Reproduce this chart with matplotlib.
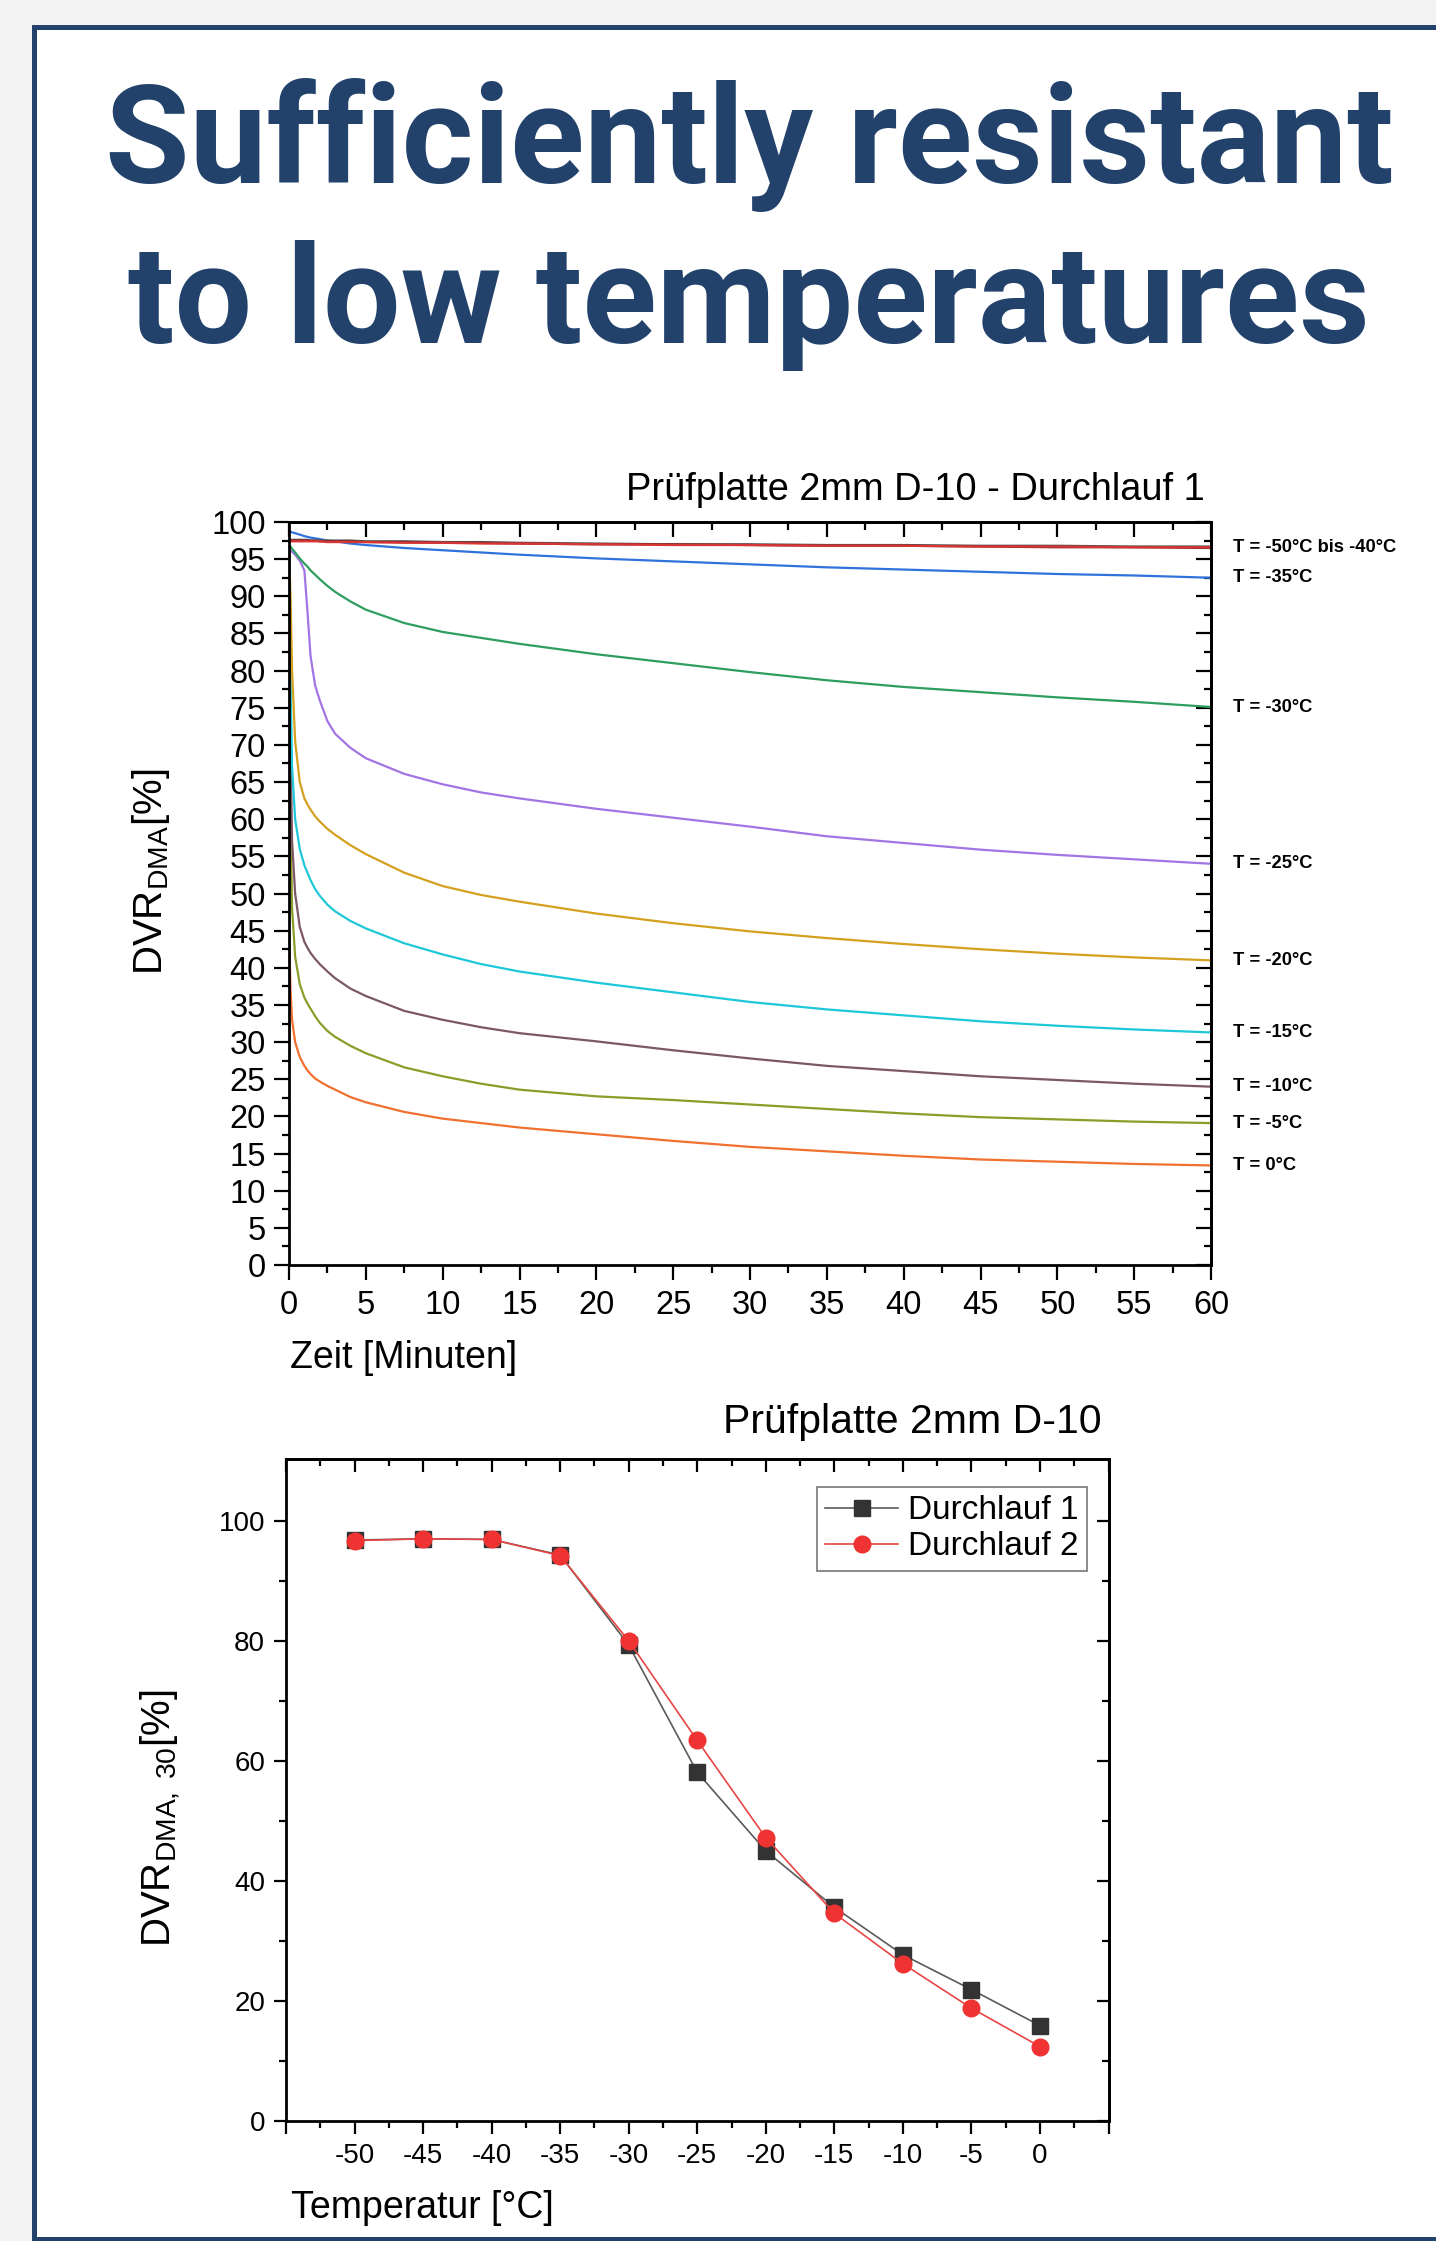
import matplotlib
matplotlib.use("Agg")
import matplotlib.pyplot as plt
from matplotlib.patches import Rectangle
from matplotlib.ticker import MultipleLocator, FixedLocator, FuncFormatter

plt.rcParams['font.family'] = ['Liberation Sans', 'DejaVu Sans']
plt.rcParams['mathtext.fontset'] = 'custom'
plt.rcParams['mathtext.rm'] = 'Liberation Sans'
plt.rcParams['mathtext.it'] = 'Liberation Sans:italic'
plt.rcParams['mathtext.bf'] = 'Liberation Sans:bold'

# ---------------- data ----------------
title_lines = ["Sufficiently resistant", "to low temperatures"]

minutes = [0, 0.1, 0.2, 0.4, 0.7, 1.0, 1.2, 1.4, 1.7, 2, 2.5, 3, 4, 5, 7.5,
           10, 12.5, 15, 20, 25, 30, 35, 40, 45, 50, 55, 60]

dvr_m50 = [97.4, 97.4, 97.4, 97.4, 97.4, 97.4, 97.4, 97.4, 97.4, 97.4, 97.3, 97.3, 97.3, 97.3,
           97.2, 97.2, 97.1, 97.1, 97.0, 96.9, 96.9, 96.8, 96.8, 96.7, 96.7, 96.6, 96.6]
dvr_m45 = [97.6, 97.6, 97.6, 97.6, 97.6, 97.6, 97.6, 97.5, 97.5, 97.5, 97.5, 97.5, 97.5, 97.4,
           97.4, 97.3, 97.3, 97.2, 97.1, 97.0, 97.0, 96.9, 96.9, 96.8, 96.8, 96.7, 96.7]
dvr_m40 = [97.5, 97.5, 97.5, 97.5, 97.5, 97.5, 97.5, 97.5, 97.5, 97.4, 97.4, 97.4, 97.4, 97.3,
           97.3, 97.2, 97.2, 97.1, 97.0, 97.0, 96.9, 96.8, 96.8, 96.7, 96.6, 96.6, 96.5]
dvr_m35 = [98.8, 98.7, 98.6, 98.5, 98.3, 98.1, 98.0, 97.9, 97.8, 97.7, 97.5, 97.4, 97.1, 96.9,
           96.5, 96.2, 95.9, 95.6, 95.1, 94.7, 94.3, 93.9, 93.6, 93.3, 93.0, 92.8, 92.5]
dvr_m30 = [97.0, 96.7, 96.4, 95.9, 95.1, 94.4, 94.0, 93.5, 92.9, 92.3, 91.4, 90.6, 89.3, 88.2,
           86.4, 85.2, 84.4, 83.6, 82.2, 81.0, 79.8, 78.7, 77.8, 77.1, 76.4, 75.8, 75.1]
dvr_m25 = [96.5, 96.2, 96.0, 95.6, 94.8, 93.5, 88.0, 82.0, 78.0, 76.0, 73.2, 71.5, 69.6, 68.2,
           66.1, 64.7, 63.6, 62.8, 61.4, 60.2, 59.0, 57.7, 56.8, 55.9, 55.2, 54.6, 54.0]
dvr_m20 = [96.0, 90.0, 80.0, 70.5, 65.0, 62.8, 62.0, 61.3, 60.4, 59.7, 58.7, 57.9, 56.5, 55.3,
           52.8, 51.0, 49.8, 48.9, 47.3, 46.0, 44.9, 44.0, 43.2, 42.5, 41.9, 41.4, 41.0]
dvr_m15 = [96.0, 78.0, 67.0, 60.0, 56.0, 53.8, 52.8, 51.8, 50.6, 49.7, 48.5, 47.6, 46.3, 45.3,
           43.3, 41.8, 40.5, 39.5, 38.0, 36.7, 35.4, 34.4, 33.6, 32.8, 32.2, 31.7, 31.3]
dvr_m10 = [96.0, 70.0, 57.0, 50.0, 45.5, 43.5, 42.7, 42.0, 41.2, 40.5, 39.5, 38.6, 37.2, 36.2,
           34.2, 33.0, 32.0, 31.2, 30.1, 28.9, 27.8, 26.8, 26.1, 25.4, 24.9, 24.4, 24.0]
dvr_m5 = [96.0, 60.0, 48.0, 41.5, 37.8, 36.0, 35.2, 34.5, 33.5, 32.6, 31.5, 30.7, 29.5, 28.5,
          26.6, 25.4, 24.4, 23.6, 22.7, 22.2, 21.6, 21.0, 20.4, 19.9, 19.6, 19.3, 19.1]
dvr_0 = [45.0, 37.0, 33.0, 30.0, 28.0, 26.8, 26.2, 25.7, 25.1, 24.7, 24.1, 23.6, 22.6, 21.9,
         20.6, 19.7, 19.1, 18.5, 17.6, 16.7, 15.9, 15.3, 14.7, 14.2, 13.9, 13.6, 13.4]

curve_labels = ["T = -50°C bis -40°C", "T = -35°C", "T = -30°C", "T = -25°C", "T = -20°C",
                "T = -15°C", "T = -10°C", "T = -5°C", "T = 0°C"]

temperatures = [-50, -45, -40, -35, -30, -25, -20, -15, -10, -5, 0]
durchlauf_1 = [96.8, 97.0, 96.9, 94.3, 79.3, 58.1, 45.0, 35.6, 27.7, 21.9, 15.9]
durchlauf_2 = [96.7, 97.0, 96.9, 94.2, 80.0, 63.4, 47.2, 34.6, 26.2, 18.8, 12.4]

# ---------------- figure ----------------
W, H = 1436, 2241
fig = plt.figure(figsize=(W / 100, H / 100), dpi=100)
fig.patch.set_facecolor('#f3f3f3')

NAVY = '#22426b'

def fx(x):
    return x / W

def fy(y):
    return 1 - y / H

card = Rectangle((fx(33.5), fy(2239)), fx(1460 - 33.5), (2239 - 26.5) / H,
                 transform=fig.transFigure, facecolor='white', edgecolor=NAVY,
                 linewidth=3.6, zorder=-10)
fig.patches.append(card)

fig.text(fx(749), fy(183), title_lines[0], ha='center', va='baseline',
         fontsize=99, fontweight='bold', family=['Roboto', 'DejaVu Sans'], color=NAVY)
fig.text(fx(749), fy(343), title_lines[1], ha='center', va='baseline',
         fontsize=99, fontweight='bold', family=['Roboto', 'DejaVu Sans'], color=NAVY)


def px_axes(l, t, r, b):
    return fig.add_axes([fx(l), fy(b), (r - l) / W, (b - t) / H])


def style_axes(ax, maj_len, min_len, lw):
    for s in ax.spines.values():
        s.set_linewidth(lw)
        s.set_color('black')
    ax.tick_params(which='both', direction='out', width=1.6, colors='black')
    ax.tick_params(which='major', length=maj_len)
    ax.tick_params(which='minor', length=min_len)


def inner_ticks(sec, axis_name, maj, mnr, maj_len, min_len):
    getattr(sec, axis_name).set_major_locator(maj)
    getattr(sec, axis_name).set_minor_locator(mnr)
    if axis_name == 'xaxis':
        sec.tick_params(which='both', direction='in', width=1.6, labeltop=False)
        sec.spines['top'].set_linewidth(2.0)
    else:
        sec.tick_params(which='both', direction='in', width=1.6, labelright=False)
        sec.spines['right'].set_linewidth(2.0)
    sec.tick_params(which='major', length=maj_len)
    sec.tick_params(which='minor', length=min_len)


# ---------------- top chart ----------------
ax1 = px_axes(289, 522, 1211, 1265)
series = [
    (dvr_0, '#f07030'), (dvr_m5, '#8c9c28'), (dvr_m10, '#7c5866'), (dvr_m15, '#1ec8d8'),
    (dvr_m20, '#d4a020'), (dvr_m25, '#a274e4'), (dvr_m30, '#2e9e5e'), (dvr_m35, '#2f72dc'),
    (dvr_m45, '#505050'), (dvr_m40, '#8b2a2a'), (dvr_m50, '#d83535'),
]
for vals, col in series:
    ax1.plot(minutes, vals, color=col, lw=1.6, solid_joinstyle='round')

ax1.set_xlim(0, 60)
ax1.set_ylim(0, 100)
ax1.xaxis.set_major_locator(MultipleLocator(5))
ax1.xaxis.set_minor_locator(MultipleLocator(2.5))
ax1.yaxis.set_major_locator(MultipleLocator(5))
ax1.yaxis.set_minor_locator(MultipleLocator(2.5))
style_axes(ax1, 10.8, 5.4, 2.0)
ax1.tick_params(axis='y', which='major', labelsize=23.5, pad=6)
ax1.tick_params(axis='x', which='major', labelsize=23.5, pad=7)

inner_ticks(ax1.secondary_xaxis('top'), 'xaxis', MultipleLocator(5), MultipleLocator(2.5), 10.8, 5.4)
inner_ticks(ax1.secondary_yaxis('right'), 'yaxis', MultipleLocator(5), MultipleLocator(2.5), 10.8, 5.4)

label_ends = [dvr_m50, dvr_m35, dvr_m30, dvr_m25, dvr_m20, dvr_m15, dvr_m10, dvr_m5, dvr_0]
for lab, vals in zip(curve_labels, label_ends):
    ax1.text(1.0239, vals[-1], lab, transform=ax1.get_yaxis_transform(),
             ha='left', va='center', fontsize=13.2, fontweight='bold')

fig.text(fx(1205), fy(500), "Prüfplatte 2mm D-10 - Durchlauf 1", ha='right',
         va='baseline', fontsize=27.4)
fig.text(fx(290), fy(1368), "Zeit [Minuten]", ha='left', va='baseline', fontsize=27)
fig.text(fx(162), fy(872), r"DVR$_{\mathrm{DMA}}$[%]", rotation=90, rotation_mode='anchor',
         ha='center', va='baseline', fontsize=29)

# ---------------- bottom chart ----------------
ax2 = px_axes(286, 1459, 1108.5, 2121)
ax2.plot(temperatures, durchlauf_1, color='#5a5a5a', lw=1.2, marker='s', markersize=11,
         markerfacecolor='#333333', markeredgecolor='#333333', label='Durchlauf 1', zorder=3)
ax2.plot(temperatures, durchlauf_2, color='#e84545', lw=1.2, marker='o', markersize=12,
         markerfacecolor='#ef3333', markeredgecolor='#ef3333', label='Durchlauf 2', zorder=4)
ax2.set_xlim(-55, 5)
ax2.set_ylim(0, 110.3)
ax2.xaxis.set_major_locator(MultipleLocator(5))
ax2.xaxis.set_minor_locator(MultipleLocator(2.5))
ax2.yaxis.set_major_locator(FixedLocator([0, 20, 40, 60, 80, 100]))
ax2.yaxis.set_minor_locator(FixedLocator([10, 30, 50, 70, 90]))
ax2.xaxis.set_major_formatter(FuncFormatter(
    lambda v, p: '' if (v < min(temperatures) - 0.1 or v > max(temperatures) + 0.1) else '%d' % round(v)))
style_axes(ax2, 9, 4.7, 2.0)
ax2.tick_params(axis='both', which='major', labelsize=20)
ax2.tick_params(axis='x', which='major', pad=7)
ax2.tick_params(axis='y', which='major', pad=6)

inner_ticks(ax2.secondary_xaxis('top'), 'xaxis', MultipleLocator(5), MultipleLocator(2.5), 9, 4.7)
inner_ticks(ax2.secondary_yaxis('right'), 'yaxis', FixedLocator([0, 20, 40, 60, 80, 100]),
            FixedLocator([10, 30, 50, 70, 90]), 9, 4.7)

leg = ax2.legend(loc='upper right', bbox_to_anchor=(0.9739, 0.9577), borderaxespad=0,
                 fontsize=24, frameon=True, fancybox=False, handlelength=2.2,
                 handletextpad=0.3, borderpad=0.25, labelspacing=0.15)
leg.get_frame().set_edgecolor('#555555')
leg.get_frame().set_linewidth(1.2)

fig.text(fx(1102), fy(1433), "Prüfplatte 2mm D-10", ha='right', va='baseline', fontsize=29.5)
fig.text(fx(291), fy(2218), "Temperatur [°C]", ha='left', va='baseline', fontsize=27)
fig.text(fx(171), fy(1818), r"DVR$_{\mathrm{DMA,\ 30}}$[%]", rotation=90, rotation_mode='anchor',
         ha='center', va='baseline', fontsize=29)

fig.savefig('out.png', dpi=100, facecolor=fig.get_facecolor())
